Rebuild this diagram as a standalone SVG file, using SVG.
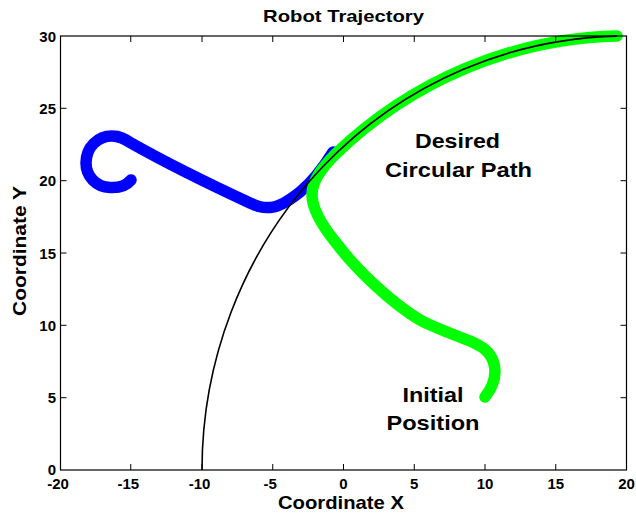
<svg xmlns="http://www.w3.org/2000/svg" width="636" height="515" viewBox="0 0 636 515">
  <style>
    .lbl { font-family: "Liberation Sans", Arial, sans-serif; font-weight: bold; fill: #000; }
    .tick { stroke: #000; stroke-width: 1; }
    .tk { font-size: 15px; }
    .traj { fill: none; stroke-width: 11.5; stroke-linecap: round; stroke-linejoin: round; }
  </style>
  <rect width="636" height="515" fill="#fff"/>

  <!-- plot area: x -20..20 maps to 60.5..626.5, y 0..30 maps to 470..36 -->
  <g id="trajectories">
    <!-- robot starting left of the path -->
    <path id="blue-run" class="traj" stroke="#0000ff"
      d="M131,180 C126,186 118,188 110,187.5 C96,187 86,176 86,163 C86,147 98,136 112,136 C120,136 125,139 131,143 C170,165 222,190 250,203 C258,206.5 262,208 270,207.5 C278,207 290,200 300,192 C311,183 323,168 333,152"/>
    <!-- robot starting at (10,5) -->
    <path id="green-run" class="traj" stroke="#00ff00"
      d="M485,397 C492,388 497,376 494,364 C491,352 482,346 470,341 C455,335 435,328 420,320 C390,302 355,268 337,244 C323,227 312,210 312,195 C312,180 322,168 335,154.5 A424.5,434 0 0 1 617,36"/>
    <!-- desired circular path, centre (20,0), radius 30 -->
    <path id="desired-path" fill="none" stroke="#000" stroke-width="1.6"
      d="M202,470 A424.5,434 0 0 1 617,36.1"/>
  </g>

  <g id="axes">
    <rect x="60.5" y="36" width="566" height="434" fill="none" stroke="#000" stroke-width="1.2"/>
    <!-- x ticks, bottom and top -->
    <path class="tick" d="M130.75,470v-6M202,470v-6M272.75,470v-6M343.5,470v-6M414.25,470v-6M485,470v-6M555.75,470v-6
                          M130.75,36v6M202,36v6M272.75,36v6M343.5,36v6M414.25,36v6M485,36v6M555.75,36v6"/>
    <!-- y ticks, left and right -->
    <path class="tick" d="M60.5,397.7h6M60.5,325.3h6M60.5,253h6M60.5,180.7h6M60.5,108.3h6
                          M626.5,397.7h-6M626.5,325.3h-6M626.5,253h-6M626.5,180.7h-6M626.5,108.3h-6"/>
    <g class="lbl tk" text-anchor="middle">
      <text x="58" y="488.5">-20</text>
      <text x="128.25" y="488.5">-15</text>
      <text x="199.5" y="488.5">-10</text>
      <text x="270.25" y="488.5">-5</text>
      <text x="343.5" y="488.5">0</text>
      <text x="414.25" y="488.5">5</text>
      <text x="485" y="488.5">10</text>
      <text x="555.75" y="488.5">15</text>
      <text x="626.5" y="488.5">20</text>
    </g>
    <g class="lbl tk" text-anchor="end">
      <text x="56" y="474.5">0</text>
      <text x="56" y="403.2">5</text>
      <text x="56" y="330.8">10</text>
      <text x="56" y="258.5">15</text>
      <text x="56" y="186.2">20</text>
      <text x="56" y="113.8">25</text>
      <text x="56" y="41.5">30</text>
    </g>
  </g>

  <g id="titles" class="lbl" text-anchor="middle">
    <text x="343.5" y="22.3" font-size="17" textLength="161" lengthAdjust="spacingAndGlyphs">Robot Trajectory</text>
    <text x="341" y="509.3" font-size="19" textLength="126" lengthAdjust="spacingAndGlyphs">Coordinate X</text>
    <text transform="translate(26,251) rotate(-90)" x="0" y="0" font-size="19" textLength="130" lengthAdjust="spacingAndGlyphs">Coordinate Y</text>
  </g>

  <g id="annotations" class="lbl" text-anchor="middle" font-size="21">
    <text x="457.5" y="148" textLength="85" lengthAdjust="spacingAndGlyphs">Desired</text>
    <text x="458.5" y="177" textLength="147" lengthAdjust="spacingAndGlyphs">Circular Path</text>
    <text x="433" y="401.5" textLength="61" lengthAdjust="spacingAndGlyphs">Initial</text>
    <text x="433" y="430" textLength="93" lengthAdjust="spacingAndGlyphs">Position</text>
  </g>
</svg>
